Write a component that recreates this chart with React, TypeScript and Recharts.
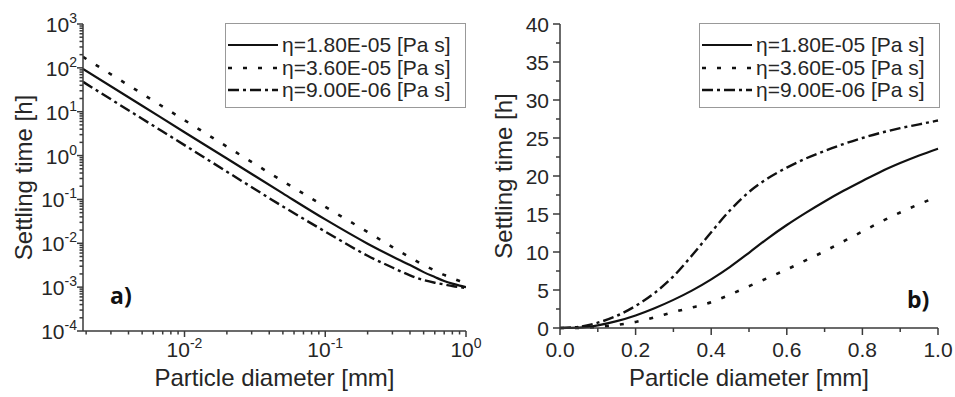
import React from "react";
import { LineChart, Line, XAxis, YAxis, Legend, Label } from "recharts";

const FONT = '"Liberation Sans", Arial, sans-serif';
const AXIS = "#3a3a3a";
const INK = "#262626";
const CURVE = "#111";

// panel a) settling time vs diameter, log-log
const LOG_D = [0.0019, 0.005, 0.01, 0.02, 0.05, 0.1, 0.2, 0.3, 0.4, 0.5, 0.6, 0.7, 0.8, 0.9, 1.0];
const LOG_T18 = [95, 13.7, 3.4, 0.86, 0.137, 0.035, 0.0098, 0.005, 0.0032, 0.0022, 0.0017, 0.00138, 0.0012, 0.00108, 0.001];
const LOG_T36 = [178, 25.7, 6.4, 1.6, 0.26, 0.068, 0.018, 0.0082, 0.0048, 0.0032, 0.0024, 0.0019, 0.0016, 0.00138, 0.0012];
const LOG_T09 = [48, 6.9, 1.73, 0.43, 0.069, 0.0185, 0.0052, 0.0028, 0.00186, 0.00145, 0.00126, 0.00115, 0.00106, 0.001, 0.00096];

// panel b) linear axes
const LIN_D = [0, 0.05, 0.1, 0.15, 0.2, 0.25, 0.3, 0.35, 0.4, 0.45, 0.5, 0.55, 0.6, 0.65, 0.7, 0.75, 0.8, 0.85, 0.9, 0.95, 1.0];
const LIN_T18 = [0, 0.05, 0.35, 0.9, 1.65, 2.6, 3.7, 4.95, 6.4, 8.05, 9.9, 11.8, 13.55, 15.15, 16.65, 18.05, 19.35, 20.6, 21.7, 22.7, 23.6];
const LIN_T36 = [0, 0.02, 0.15, 0.4, 0.8, 1.4, 2.1, 2.7, 3.4, 4.4, 5.5, 6.6, 7.7, 8.9, 10.1, 11.4, 12.7, 14.0, 15.2, 16.3, 17.3];
const LIN_T09 = [0, 0.15, 0.7, 1.6, 2.9, 4.6, 6.8, 9.6, 12.6, 15.5, 17.9, 19.7, 21.1, 22.3, 23.3, 24.2, 25.0, 25.7, 26.3, 26.8, 27.3];

const LOG_X_MAJOR = [0.01, 0.1, 1];
const LOG_Y_MAJOR = [1e-4, 1e-3, 1e-2, 1e-1, 1, 10, 100, 1000];
const LIN_X_MAJOR = [0, 0.2, 0.4, 0.6, 0.8, 1.0];
const LIN_X_MINOR = [0.1, 0.3, 0.5, 0.7, 0.9];
const LIN_Y_MAJOR = [0, 5, 10, 15, 20, 25, 30, 35, 40];
const LIN_Y_MINOR = [2.5, 7.5, 12.5, 17.5, 22.5, 27.5, 32.5, 37.5];

const SERIES = [
  { key: "eta18", name: "η=1.80E-05 [Pa s]", dash: undefined as string | undefined, width: 2.2 },
  { key: "eta36", name: "η=3.60E-05 [Pa s]", dash: "4 11", width: 2.6 },
  { key: "eta09", name: "η=9.00E-06 [Pa s]", dash: "11 4 3 4", width: 2.4 },
];

const logData = LOG_D.map((d, i) => ({ d, eta18: LOG_T18[i], eta36: LOG_T36[i], eta09: LOG_T09[i] }));
const linData = LIN_D.map((d, i) => ({ d, eta18: LIN_T18[i], eta36: LIN_T36[i], eta09: LIN_T09[i] }));

// log minor ticks 2..9 inside each decade
const withMinors = (majors: number[], lo: number, hi: number) => {
  const out: number[] = [];
  majors.forEach((m) => {
    for (let k = 1; k <= 9; k++) {
      const v = (m / 10) * k;
      if (v >= lo && v <= hi) out.push(+v.toPrecision(3));
    }
  });
  majors.forEach((m) => out.push(m));
  return Array.from(new Set(out)).sort((a, b) => a - b);
};
const LOG_X_TICKS = withMinors(LOG_X_MAJOR, 0.0019, 1);
const LOG_Y_TICKS = withMinors(LOG_Y_MAJOR, 1e-4, 1e3);

const isMajorLog = (v: number) => Math.abs(Math.log10(v) - Math.round(Math.log10(v))) < 1e-6;

function Pow10({ x, y, exp, anchor }: { x: number; y: number; exp: number; anchor: "end" | "middle" }) {
  return (
    <text x={x} y={y} textAnchor={anchor} fontSize={21} fill={INK} fontFamily={FONT}>
      <tspan>10</tspan>
      <tspan dy={-9} fontSize={14}>{exp}</tspan>
    </text>
  );
}

function LogXTick(props: any) {
  const { x, y, payload } = props;
  const v = payload.value;
  const major = isMajorLog(v);
  return (
    <g>
      <line x1={x} x2={x} y1={y} y2={y + (major ? 6 : 3.5)} stroke={AXIS} strokeWidth={1.5} />
      {major && <Pow10 x={x} y={y + 26} exp={Math.round(Math.log10(v))} anchor="middle" />}
    </g>
  );
}

function LogYTick(props: any) {
  const { x, y, payload } = props;
  const v = payload.value;
  const major = isMajorLog(v);
  return (
    <g>
      <line x1={x - (major ? 6 : 3.5)} x2={x} y1={y} y2={y} stroke={AXIS} strokeWidth={1.5} />
      {major && <Pow10 x={x - 6} y={y + 8} exp={Math.round(Math.log10(v))} anchor="end" />}
    </g>
  );
}

function LinXTick(props: any) {
  const { x, y, payload } = props;
  const v = payload.value;
  const major = LIN_X_MAJOR.some((m) => Math.abs(m - v) < 1e-9);
  return (
    <g>
      <line x1={x} x2={x} y1={y} y2={y + (major ? 7 : 4)} stroke={AXIS} strokeWidth={1.5} />
      {major && (
        <text x={x} y={y + 29} textAnchor="middle" fontSize={21} fill={INK} fontFamily={FONT}>
          {v.toFixed(1)}
        </text>
      )}
    </g>
  );
}

function LinYTick(props: any) {
  const { x, y, payload } = props;
  const v = payload.value;
  const major = LIN_Y_MAJOR.includes(v);
  return (
    <g>
      <line x1={x - (major ? 7 : 4)} x2={x} y1={y} y2={y} stroke={AXIS} strokeWidth={1.5} />
      {major && (
        <text x={x - 11} y={y + 7.5} textAnchor="end" fontSize={21} fill={INK} fontFamily={FONT}>
          {v}
        </text>
      )}
    </g>
  );
}

const xTitle = (dy: number) => (props: any) => {
  const { x, y, width } = props.viewBox;
  return (
    <text x={x + width / 2} y={y + dy} textAnchor="middle" fontSize={24} fill={INK} fontFamily={FONT}>
      Particle diameter [mm]
    </text>
  );
};

const yTitle = (dx: number) => (props: any) => {
  const { x, y, width, height } = props.viewBox;
  const cx = x + width - dx;
  const cy = y + height / 2;
  return (
    <text x={cx} y={cy} transform={`rotate(-90 ${cx} ${cy})`} textAnchor="middle" fontSize={24} fill={INK} fontFamily={FONT}>
      Settling time [h]
    </text>
  );
};

function LegendBox(props: any) {
  const items = (props.payload || []).map((p: any) => SERIES.find((s) => s.key === p.dataKey)).filter(Boolean);
  const rows = items.length ? items : SERIES;
  return (
    <div
      style={{
        width: 241,
        height: 85,
        boxSizing: "border-box",
        border: "1px solid #999",
        background: "#fff",
        paddingTop: 10,
        fontFamily: FONT,
      }}
    >
      {rows.map((s: any) => (
        <div key={s.key} style={{ display: "flex", alignItems: "center", height: 22.5 }}>
          <svg width={56} height={22} style={{ flex: "none" }}>
            <line x1={2} x2={52} y1={11} y2={11} stroke={CURVE} strokeWidth={s.width} strokeDasharray={s.dash} />
          </svg>
          <span style={{ fontSize: 21, color: INK, whiteSpace: "nowrap", lineHeight: "22px" }}>{s.name}</span>
        </div>
      ))}
    </div>
  );
}

export default function App() {
  const lines = SERIES.map((s) => (
    <Line
      key={s.key}
      type="monotone"
      dataKey={s.key}
      name={s.name}
      stroke={CURVE}
      strokeWidth={s.width}
      strokeDasharray={s.dash}
      dot={false}
      activeDot={false}
      isAnimationActive={false}
    />
  ));

  return (
    <div style={{ position: "absolute", left: 0, top: 0, width: 955, height: 397, background: "#fff" }}>
      <div style={{ position: "absolute", left: 0, top: 0 }}>
        <LineChart width={492} height={397} data={logData} margin={{ top: 24, right: 26, bottom: 6, left: 23 }}>
          <XAxis
            dataKey="d"
            type="number"
            scale="log"
            domain={[0.0019, 1]}
            ticks={LOG_X_TICKS}
            interval={0}
            tickSize={0}
            tickMargin={0}
            tick={<LogXTick />}
            axisLine={{ stroke: AXIS, strokeWidth: 1.5 }}
            height={60}
            allowDataOverflow
          >
            <Label content={xTitle(55)} />
          </XAxis>
          <YAxis
            type="number"
            scale="log"
            domain={[1e-4, 1e3]}
            ticks={LOG_Y_TICKS}
            interval={0}
            tickSize={0}
            tickMargin={0}
            tick={<LogYTick />}
            axisLine={{ stroke: AXIS, strokeWidth: 1.5 }}
            width={60}
            allowDataOverflow
          >
            <Label content={yTitle(51)} />
          </YAxis>
          <Legend
            layout="horizontal"
            verticalAlign="middle"
            align="center"
            content={<LegendBox />}
            wrapperStyle={{ left: 225, top: 23, width: 241, height: 85 }}
          />
          {lines}
        </LineChart>
      </div>
      <div style={{ position: "absolute", left: 480, top: 0 }}>
        <LineChart width={475} height={397} data={linData} margin={{ top: 24, right: 17, bottom: 9, left: 20 }}>
          <XAxis
            dataKey="d"
            type="number"
            domain={[0, 1]}
            ticks={[...LIN_X_MAJOR, ...LIN_X_MINOR].sort((a, b) => a - b)}
            interval={0}
            tickSize={0}
            tickMargin={0}
            tick={<LinXTick />}
            axisLine={{ stroke: AXIS, strokeWidth: 1.5 }}
            height={60}
          >
            <Label content={xTitle(58)} />
          </XAxis>
          <YAxis
            type="number"
            domain={[0, 40]}
            ticks={[...LIN_Y_MAJOR, ...LIN_Y_MINOR].sort((a, b) => a - b)}
            interval={0}
            tickSize={0}
            tickMargin={0}
            tick={<LinYTick />}
            axisLine={{ stroke: AXIS, strokeWidth: 1.5 }}
            width={60}
          >
            <Label content={yTitle(48)} />
          </YAxis>
          <Legend
            layout="horizontal"
            verticalAlign="middle"
            align="center"
            content={<LegendBox />}
            wrapperStyle={{ left: 219, top: 23, width: 241, height: 85 }}
          />
          {lines}
        </LineChart>
      </div>
      <svg width={955} height={397} style={{ position: "absolute", left: 0, top: 0, pointerEvents: "none" }}>
        <text x={110} y={304} fontSize={23} fontWeight={700} fill="#111" fontFamily='"Open Sans", sans-serif'>a)</text>
        <text x={907} y={308} fontSize={23} fontWeight={700} fill="#111" fontFamily='"Open Sans", sans-serif'>b)</text>
      </svg>
    </div>
  );
}
